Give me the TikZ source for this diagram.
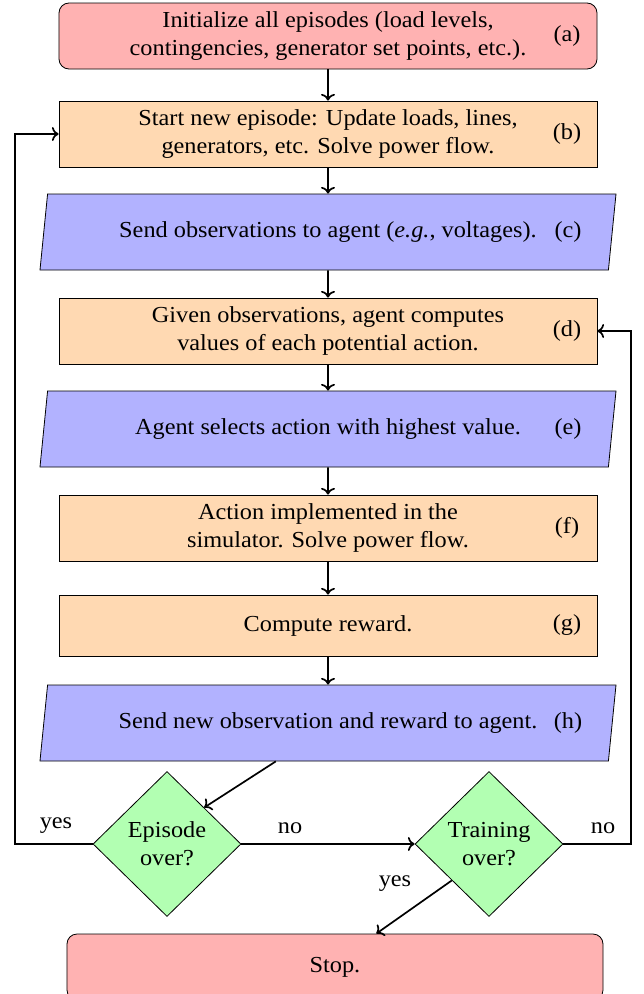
\documentclass[tikz,border=0pt]{standalone}
\usepackage{fontspec}
\setmainfont[FakeStretch=1.06]{Liberation Serif}
\usetikzlibrary{shapes.geometric,calc,arrows.meta}
\begin{document}
\begin{tikzpicture}[x=1bp,y=-1bp,
  every node/.style={font=\fontsize{23}{27.7}\selectfont},
  base/.style={draw=black, line width=0.8bp, inner sep=0pt, align=center},
  startbox/.style={base, rectangle, rounded corners=10bp, fill=red!30, minimum width=538bp, minimum height=66bp},
  procbox/.style={base, rectangle, fill=orange!30, minimum width=538bp, minimum height=66bp},
  iobox/.style={base, trapezium, trapezium left angle=70, trapezium right angle=110, trapezium stretches body, fill=blue!30, minimum width=576bp, minimum height=76bp},
  decbox/.style={base, diamond, fill=green!30, minimum width=148bp, minimum height=145bp},
  tag/.style={inner sep=0pt},
  flow/.style={-{To[scale=1.25]}, line width=1.7bp},
]
\useasboundingbox (0,0) rectangle (644,994);

\node[startbox] (a) at (328,36) {Initialize all episodes (load levels,\\contingencies, generator set points, etc.).};
\node[tag] (ta) at (567,36) {(a)};
\node[procbox] (b) at (328,134) {Start new episode: Update loads, lines,\\generators, etc. Solve power flow.};
\node[tag] (tb) at (567,134) {(b)};
\node[iobox] (c) at (328,232) {Send observations to agent (\emph{e.g.}, voltages).};
\node[tag] (tc) at (568,232) {(c)};
\node[procbox] (d) at (328,331) {Given observations, agent computes\\values of each potential action.};
\node[tag] (td) at (567,331) {(d)};
\node[iobox] (e) at (328,429) {Agent selects action with highest value.};
\node[tag] (te) at (568,429) {(e)};
\node[procbox] (f) at (328,528) {Action implemented in the\\simulator. Solve power flow.};
\node[tag] (tf) at (567,528) {(f)};
\node[procbox, minimum height=61bp] (g) at (328,625.5) {Compute reward.};
\node[tag] (tg) at (567,625.5) {(g)};
\node[iobox] (h) at (328,723) {Send new observation and reward to agent.};
\node[tag] (th) at (568,723) {(h)};
\node[decbox] (ep) at (167,844) {Episode\\over?};
\node[decbox] (tr) at (489,844) {Training\\over?};
\node[startbox, minimum width=536bp] (stop) at (335,967) {Stop.};

\draw[flow] (a) -- (b);
\draw[flow] (b) -- (c);
\draw[flow] (c) -- (d);
\draw[flow] (d) -- (e);
\draw[flow] (e) -- (f);
\draw[flow] (f) -- (g);
\draw[flow] (g) -- (h);

\coordinate (L) at (15,844);
\coordinate (R) at (631,844);
\draw[flow] (ep.west) -- (L) |- (b.west);
\node[tag] (yes1) at (56,826) {yes};
\draw[flow] (ep) -- (tr);
\node[tag] (no1) at (290,828) {no};
\draw[flow] (tr.east) -- (R) |- (d.east);
\node[tag] (no2) at (603,828) {no};
\draw[flow] ($(h.bottom left corner)!0.415!(h.bottom right corner)$) -- (ep.north east);
\draw[flow] (tr.south west) -- ($(stop.north west)!0.577!(stop.north east)$);
\node[tag] (yes2) at (395,884) {yes};
\end{tikzpicture}
\end{document}
